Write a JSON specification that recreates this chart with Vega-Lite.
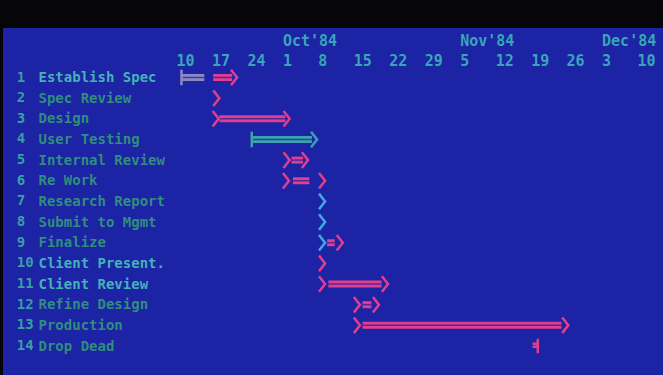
{
  "$schema": "https://vega.github.io/schema/vega-lite/v6.json",
  "width": 663,
  "height": 375,
  "autosize": {"type": "fit", "contains": "padding"},
  "padding": {"top": 28, "left": 3, "right": 0, "bottom": 0},
  "background": "#060608",
  "config": {"view": {"fill": "#1c23a5", "stroke": null}},
  "datasets": {
    "rows": [
      {"num": "1", "task": "Establish Spec"},
      {"num": "2", "task": "Spec Review"},
      {"num": "3", "task": "Design"},
      {"num": "4", "task": "User Testing"},
      {"num": "5", "task": "Internal Review"},
      {"num": "6", "task": "Re Work"},
      {"num": "7", "task": "Research Report"},
      {"num": "8", "task": "Submit to Mgmt"},
      {"num": "9", "task": "Finalize"},
      {"num": "10", "task": "Client Present."},
      {"num": "11", "task": "Client Review"},
      {"num": "12", "task": "Refine Design"},
      {"num": "13", "task": "Production"},
      {"num": "14", "task": "Drop Dead"}
    ],
    "bars": [
      {"task": "Establish Spec", "start": "1984-09-09T12:00:00", "end": "1984-09-14T00:00:00", "status": "complete"},
      {"task": "Establish Spec", "start": "1984-09-15T18:00:00", "end": "1984-09-19T12:00:00", "status": "scheduled"},
      {"task": "Design", "start": "1984-09-17T00:00:00", "end": "1984-09-30T00:00:00", "status": "scheduled"},
      {"task": "User Testing", "start": "1984-09-23T12:00:00", "end": "1984-10-05T06:00:00", "status": "in progress"},
      {"task": "Internal Review", "start": "1984-10-01T06:00:00", "end": "1984-10-03T12:00:00", "status": "scheduled"},
      {"task": "Re Work", "start": "1984-10-01T12:00:00", "end": "1984-10-04T18:00:00", "status": "scheduled"},
      {"task": "Finalize", "start": "1984-10-08T06:00:00", "end": "1984-10-09T18:00:00", "status": "scheduled"},
      {"task": "Client Review", "start": "1984-10-08T12:00:00", "end": "1984-10-19T00:00:00", "status": "scheduled"},
      {"task": "Refine Design", "start": "1984-10-15T06:00:00", "end": "1984-10-17T00:00:00", "status": "scheduled"},
      {"task": "Production", "start": "1984-10-15T06:00:00", "end": "1984-11-23T12:00:00", "status": "scheduled"}
    ],
    "marks": [
      {"task": "Establish Spec", "date": "1984-09-09T12:00:00", "sym": "start", "status": "complete"},
      {"task": "Establish Spec", "date": "1984-09-19T21:00:00", "sym": "end", "status": "scheduled"},
      {"task": "Spec Review", "date": "1984-09-16T09:00:00", "sym": "end", "status": "scheduled"},
      {"task": "Design", "date": "1984-09-16T06:00:00", "sym": "end", "status": "scheduled"},
      {"task": "Design", "date": "1984-09-30T06:00:00", "sym": "end", "status": "scheduled"},
      {"task": "User Testing", "date": "1984-09-23T09:00:00", "sym": "start", "status": "in progress"},
      {"task": "User Testing", "date": "1984-10-05T16:00:00", "sym": "end", "status": "in progress"},
      {"task": "Internal Review", "date": "1984-09-30T06:00:00", "sym": "end", "status": "scheduled"},
      {"task": "Internal Review", "date": "1984-10-03T21:00:00", "sym": "end", "status": "scheduled"},
      {"task": "Re Work", "date": "1984-09-30T03:00:00", "sym": "end", "status": "scheduled"},
      {"task": "Re Work", "date": "1984-10-07T06:00:00", "sym": "end", "status": "scheduled"},
      {"task": "Research Report", "date": "1984-10-07T06:00:00", "sym": "end", "status": "met"},
      {"task": "Submit to Mgmt", "date": "1984-10-07T06:00:00", "sym": "end", "status": "met"},
      {"task": "Finalize", "date": "1984-10-07T06:00:00", "sym": "end", "status": "met"},
      {"task": "Finalize", "date": "1984-10-10T18:00:00", "sym": "end", "status": "scheduled"},
      {"task": "Client Present.", "date": "1984-10-07T06:00:00", "sym": "end", "status": "scheduled"},
      {"task": "Client Review", "date": "1984-10-07T06:00:00", "sym": "end", "status": "scheduled"},
      {"task": "Client Review", "date": "1984-10-19T16:00:00", "sym": "end", "status": "scheduled"},
      {"task": "Refine Design", "date": "1984-10-14T03:00:00", "sym": "end", "status": "scheduled"},
      {"task": "Refine Design", "date": "1984-10-17T21:00:00", "sym": "end", "status": "scheduled"},
      {"task": "Production", "date": "1984-10-14T03:00:00", "sym": "end", "status": "scheduled"},
      {"task": "Production", "date": "1984-11-24T06:00:00", "sym": "end", "status": "scheduled"},
      {"task": "Drop Dead", "date": "1984-11-18T16:00:00", "sym": "deadline", "status": "scheduled"}
    ]
  },
  "layer": [
    {
      "data": {"name": "bars"},
      "mark": {"type": "bar", "size": 7},
      "encoding": {
        "x": {
          "field": "start",
          "type": "temporal",
          "scale": {
            "domain": [
              {"year": 1984, "month": 8, "date": 5, "hours": 6, "minutes": 30},
              {"year": 1984, "month": 12, "date": 13, "hours": 13, "minutes": 12}
            ]
          },
          "axis": {
            "orient": "top",
            "offset": -20,
            "title": null,
            "domain": false,
            "ticks": false,
            "tickSize": 0,
            "grid": false,
            "labelPadding": 0,
            "labelAlign": "left",
            "labelOffset": -8,
            "labelBaseline": "bottom",
            "labelLineHeight": 20,
            "labelOverlap": false,
            "labelFlush": false,
            "labelBound": false,
            "labelFont": "DejaVu Sans Mono",
            "labelFontWeight": "bold",
            "labelFontSize": 15,
            "labelColor": "#38a6b6",
            "values": [
              {"year": 1984, "month": 9, "date": 10},
              {"year": 1984, "month": 9, "date": 17},
              {"year": 1984, "month": 9, "date": 24},
              {"year": 1984, "month": 10, "date": 1},
              {"year": 1984, "month": 10, "date": 8},
              {"year": 1984, "month": 10, "date": 15},
              {"year": 1984, "month": 10, "date": 22},
              {"year": 1984, "month": 10, "date": 29},
              {"year": 1984, "month": 11, "date": 5},
              {"year": 1984, "month": 11, "date": 12},
              {"year": 1984, "month": 11, "date": 19},
              {"year": 1984, "month": 11, "date": 26},
              {"year": 1984, "month": 12, "date": 3},
              {"year": 1984, "month": 12, "date": 10}
            ],
            "labelExpr": "[date(datum.value) <= 7 ? timeFormat(datum.value, \"%b'%y\") : '', timeFormat(datum.value, '%-d')]"
          }
        },
        "x2": {"field": "end"},
        "y": {
          "field": "task",
          "type": "nominal",
          "scale": {
            "type": "point",
            "domain": ["Establish Spec", "Spec Review", "Design", "User Testing", "Internal Review", "Re Work", "Research Report", "Submit to Mgmt", "Finalize", "Client Present.", "Client Review", "Refine Design", "Production", "Drop Dead"],
            "padding": 0,
            "range": [49.5, 318]
          },
          "axis": {
            "orient": "left",
            "title": null,
            "domain": false,
            "ticks": false,
            "tickSize": 0,
            "grid": false,
            "labelAlign": "left",
            "labelBaseline": "middle",
            "labelPadding": -35,
            "labelLimit": 0,
            "labelFont": "DejaVu Sans Mono",
            "labelFontWeight": "bold",
            "labelFontSize": 14,
            "labelColor": {
              "condition": {"test": "indexof(['Establish Spec','Client Present.','Client Review'], datum.value) >= 0", "value": "#45b2b6"},
              "value": "#2f8e7c"
            }
          }
        },
        "color": {
          "field": "status",
          "type": "nominal",
          "scale": {"domain": ["scheduled", "complete", "in progress", "met"], "range": ["#e33e8d", "#8e88c2", "#3aa3ad", "#3fa9e6"]},
          "legend": null
        }
      }
    },
    {
      "data": {"name": "bars"},
      "mark": {"type": "rule", "strokeWidth": 1.5, "color": "#1c23a5", "opacity": 0.75},
      "encoding": {
        "x": {"field": "start", "type": "temporal"},
        "x2": {"field": "end"},
        "y": {"field": "task", "type": "nominal"}
      }
    },
    {
      "data": {"name": "marks"},
      "mark": {"type": "point", "filled": false, "size": 300, "strokeWidth": 2.5, "opacity": 1},
      "encoding": {
        "x": {"field": "date", "type": "temporal"},
        "y": {"field": "task", "type": "nominal"},
        "shape": {
          "field": "sym",
          "type": "nominal",
          "scale": {"domain": ["end", "start", "deadline"], "range": ["M -0.35 -0.9 L 0.35 0 L -0.35 0.9", "M 0 -0.9 L 0 0.9", "M 0.1 -0.85 L 0.1 0.85 M -0.5 -0.25 L 0.1 -0.25 M -0.5 0.1 L 0.1 0.1"]},
          "legend": null
        },
        "color": {"field": "status", "type": "nominal"}
      }
    },
    {
      "data": {"name": "rows"},
      "mark": {"type": "text", "align": "left", "baseline": "middle", "font": "DejaVu Sans Mono", "fontWeight": "bold", "fontSize": 14, "color": "#3a9ea6"},
      "encoding": {
        "x": {"datum": {"year": 1984, "month": 8, "date": 8}, "type": "temporal"},
        "y": {"field": "task", "type": "nominal"},
        "text": {"field": "num"}
      }
    }
  ]
}
